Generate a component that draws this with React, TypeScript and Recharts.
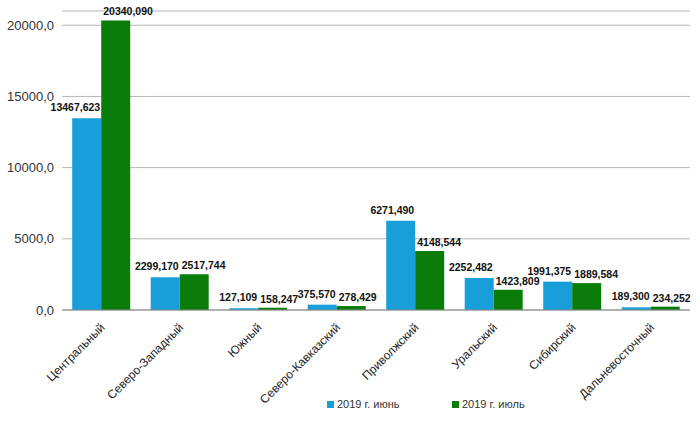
import { BarChart, Bar, XAxis, YAxis, CartesianGrid, Legend, LabelList } from 'recharts';

const regions = [
  'Центральный',
  'Северо-Западный',
  'Южный',
  'Северо-Кавказский',
  'Приволжский',
  'Уральский',
  'Сибирский',
  'Дальневосточный',
];
const june = [13467.623, 2299.17, 127.109, 375.57, 6271.49, 2252.482, 1991.375, 189.3];
const july = [20340.09, 2517.744, 158.247, 278.429, 4148.544, 1423.809, 1889.584, 234.252];
const yTicks = [0, 5000, 10000, 15000, 20000];
const juneName = '2019 г. июнь';
const julyName = '2019 г. июль';

const BLUE = '#189fd9';
const GREEN = '#0a7c0a';
const FONT = 'Liberation Sans, Arial, sans-serif';

const data = regions.map((r, i) => ({ region: r, june: june[i], july: july[i] }));

const fmtTick = (v: number) => v.toFixed(1).replace('.', ',');
const fmtLabel = (v: number) => v.toFixed(3).replace('.', ',');

function XTick({ x, y, payload }: any) {
  const tx = x + 2;
  const ty = y + 8;
  return (
    <text
      x={tx}
      y={ty}
      transform={`rotate(-45, ${tx}, ${ty})`}
      textAnchor="end"
      dominantBaseline="middle"
      fontSize={12}
      fill="#222"
      fontFamily={FONT}
    >
      {payload.value}
    </text>
  );
}

// June labels sit flush with the bar's right edge, July labels with the left edge
function BarLabel({ x, y, width, value, side }: any) {
  const left = side === 'left';
  return (
    <text
      x={left ? x + 2 : x + width - 1}
      y={y - (left ? 5 : 7)}
      textAnchor={left ? 'start' : 'end'}
      fontSize={10.5}
      fontWeight="bold"
      fill="#111"
      fontFamily={FONT}
    >
      {fmtLabel(Number(value))}
    </text>
  );
}

function LegendBox() {
  const items = [
    { name: juneName, color: BLUE },
    { name: julyName, color: GREEN },
  ];
  return (
    <div style={{ display: 'flex', paddingLeft: 325, fontFamily: FONT, fontSize: 11, color: '#333' }}>
      {items.map((it) => (
        <div key={it.name} style={{ display: 'flex', alignItems: 'center', width: 125 }}>
          <span style={{ display: 'inline-block', width: 7, height: 7, background: it.color, marginRight: 3 }} />
          {it.name}
        </div>
      ))}
    </div>
  );
}

export default function App() {
  return (
    <div style={{ position: 'absolute', left: 0, top: 0, width: 700, height: 425, background: '#fff' }}>
      <BarChart
        width={700}
        height={425}
        data={data}
        margin={{ top: 11, right: 10, bottom: 10, left: 2 }}
        barCategoryGap="13%"
        barGap={0}
      >
        <CartesianGrid vertical={false} stroke="#b5b5b5" />
        <XAxis
          dataKey="region"
          interval={0}
          height={93}
          tick={<XTick />}
          tickLine={false}
          stroke="#888"
        />
        <YAxis
          width={60}
          domain={[0, 21000]}
          ticks={yTicks}
          tickFormatter={fmtTick}
          axisLine={false}
          tickLine={false}
          tick={{ fontSize: 13, fill: '#333', fontFamily: FONT }}
        />
        <Legend verticalAlign="bottom" content={<LegendBox />} wrapperStyle={{ bottom: 15 }} />
        <Bar dataKey="june" name={juneName} fill={BLUE} isAnimationActive={false}>
          <LabelList dataKey="june" content={<BarLabel side="right" />} />
        </Bar>
        <Bar dataKey="july" name={julyName} fill={GREEN} isAnimationActive={false}>
          <LabelList dataKey="july" content={<BarLabel side="left" />} />
        </Bar>
      </BarChart>
    </div>
  );
}
